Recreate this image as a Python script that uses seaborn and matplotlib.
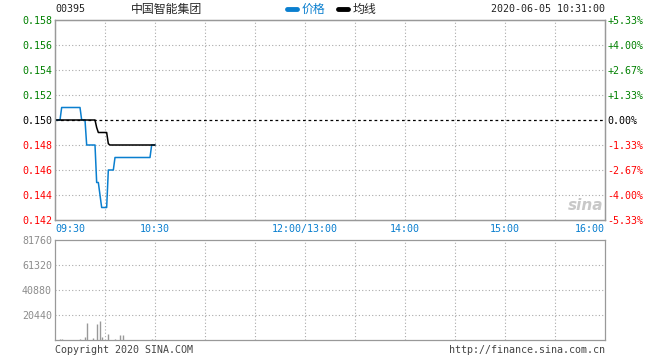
import matplotlib
matplotlib.use("Agg")
import matplotlib.pyplot as plt
import matplotlib.transforms as mtransforms
from matplotlib.lines import Line2D
import pandas as pd
import seaborn as sns

# minute-by-minute data from 09:30 (index 0) to 10:30 (index 60)
price = ([0.150] * 4 + [0.151] * 12 + [0.150] * 3 + [0.148] * 6 +
         [0.145, 0.145, 0.144] + [0.143] * 4 + [0.146] * 4 +
         [0.147] * 22 + [0.148] * 3)
avg_price = [0.150] * 25 + [0.1494] + [0.149] * 6 + [0.1481] + [0.148] * 28

vol_minutes = [3, 4, 15, 18, 19, 23, 25, 27, 28, 32, 36, 39, 41, 58]
vol_values = [1100, 1100, 1100, 2760, 14090, 1930, 13260, 15740, 2760,
              4970, 1100, 4140, 4140, 1100]

price_ticks = [0.142, 0.144, 0.146, 0.148, 0.150, 0.152, 0.154, 0.156, 0.158]
price_labels = ["0.142", "0.144", "0.146", "0.148", "0.150",
                "0.152", "0.154", "0.156", "0.158"]
pct_labels = ["-5.33%", "-4.00%", "-2.67%", "-1.33%", "0.00%",
              "+1.33%", "+2.67%", "+4.00%", "+5.33%"]
vol_ticks = [20440, 40880, 61320, 81760]
vol_labels = ["20440", "40880", "61320", "81760"]
time_ticks = [0, 60, 150, 210, 270, 330]
time_labels = ["09:30", "10:30", "12:00/13:00", "14:00", "15:00", "16:00"]

BLUE = "#0a7fcf"
GREEN = "#008000"
RED = "#ff0000"
GRID = "#aaaaaa"
BORDER = "#999999"

sns.set_style("white")
plt.rcParams['font.family'] = ['DejaVu Sans Mono', 'Noto Sans CJK SC']
plt.rcParams['font.size'] = 7.2

fig = plt.figure(figsize=(6.6, 3.6), dpi=100)
ax = fig.add_axes([55 / 660, 140 / 360, 550 / 660, 200 / 360])
axv = fig.add_axes([55 / 660, 20 / 360, 550 / 660, 100 / 360])

df = pd.DataFrame({"minute": range(len(price)), "price": price, "avg": avg_price})

# grid
for t in range(30, 330, 30):
    ax.axvline(t, color=GRID, lw=0.8, ls=(0, (1, 2)), zorder=0)
    axv.axvline(t, color=GRID, lw=0.8, ls=(0, (1, 2)), zorder=0)
for v in price_ticks[1:-1]:
    if v == 0.150:
        ax.axhline(v, color="black", lw=0.9, ls=(0, (2.2, 2.2)), zorder=1)
    else:
        ax.axhline(v, color=GRID, lw=0.8, ls=(0, (1, 2)), zorder=0)
for v in vol_ticks[:-1]:
    axv.axhline(v, color=GRID, lw=0.8, ls=(0, (1, 2)), zorder=0)

sns.lineplot(data=df, x="minute", y="price", ax=ax, color=BLUE, lw=1.1, zorder=3)
sns.lineplot(data=df, x="minute", y="avg", ax=ax, color="black", lw=1.1, zorder=4)

ax.set_xlim(0, 330)
ax.set_ylim(0.142, 0.158)
ax.set_xlabel("")
ax.set_ylabel("")

up = mtransforms.ScaledTranslation(0, 0.03, fig.dpi_scale_trans)

def tick_color(v):
    if v > 0.150:
        return GREEN
    if v < 0.150:
        return RED
    return "black"

ax.set_yticks(price_ticks)
ax.set_yticklabels(price_labels)
for lab, v in zip(ax.get_yticklabels(), price_ticks):
    lab.set_color(tick_color(v))
    lab.set_transform(lab.get_transform() + up)
ax.tick_params(axis="y", length=0, pad=2.2)

axr = ax.twinx()
axr.set_ylim(0.142, 0.158)
axr.set_yticks(price_ticks)
axr.set_yticklabels(pct_labels)
for lab, v in zip(axr.get_yticklabels(), price_ticks):
    lab.set_color(tick_color(v))
    lab.set_transform(lab.get_transform() + up)
axr.tick_params(axis="y", length=0, pad=1.5)

ax.set_xticks(time_ticks)
ax.set_xticklabels(time_labels)
xl = ax.get_xticklabels()
for lab in xl:
    lab.set_color(BLUE)
xl[0].set_ha("left")
xl[-1].set_ha("right")
ax.tick_params(axis="x", length=0, pad=3)

for a in (ax, axr, axv):
    for s in a.spines.values():
        s.set_color(BORDER)
        s.set_linewidth(0.9)

# watermark
ax.text(0.964, 0.07, "sina", transform=ax.transAxes, ha="center", va="center",
        fontsize=11, fontstyle="italic", fontweight="bold", color="#c8c8c8",
        family="DejaVu Sans", zorder=2)

# volume
axv.vlines(vol_minutes, 0, vol_values, color=BORDER, lw=1)
axv.set_xlim(0, 330)
axv.set_ylim(0, 81760)
axv.set_xticks([])
axv.set_yticks(vol_ticks)
axv.set_yticklabels(vol_labels)
for lab in axv.get_yticklabels():
    lab.set_color("#8c8c8c")
    lab.set_transform(lab.get_transform() + up)
axv.tick_params(axis="y", length=0, pad=2.2)

# header
hy = 1 - 9 / 360
fig.text(55 / 660, hy, "00395", ha="left", va="center", color="#222222")
fig.text(131 / 660, hy, "中国智能集团", ha="left", va="center", fontsize=8.6,
         family=["Noto Sans CJK SC", "DejaVu Sans"])
fig.add_artist(Line2D([287 / 660, 297 / 660], [hy, hy], color=BLUE, lw=3.5,
                      transform=fig.transFigure))
fig.text(302 / 660, hy, "价格", ha="left", va="center", fontsize=8.6, color=BLUE,
         family=["Noto Sans CJK SC", "DejaVu Sans"])
fig.add_artist(Line2D([338 / 660, 348 / 660], [hy, hy], color="black", lw=3.5,
                      transform=fig.transFigure))
fig.text(353 / 660, hy, "均线", ha="left", va="center", fontsize=8.6,
         family=["Noto Sans CJK SC", "DejaVu Sans"])
fig.text(605 / 660, hy, "2020-06-05 10:31:00", ha="right", va="center", color="#222222")

# footer
fy = 1 - 350 / 360
fig.text(55 / 660, fy, "Copyright 2020 SINA.COM", ha="left", va="center", color="#444444")
fig.text(605 / 660, fy, "http://finance.sina.com.cn", ha="right", va="center", color="#444444")

fig.savefig("out.png", dpi=100)
